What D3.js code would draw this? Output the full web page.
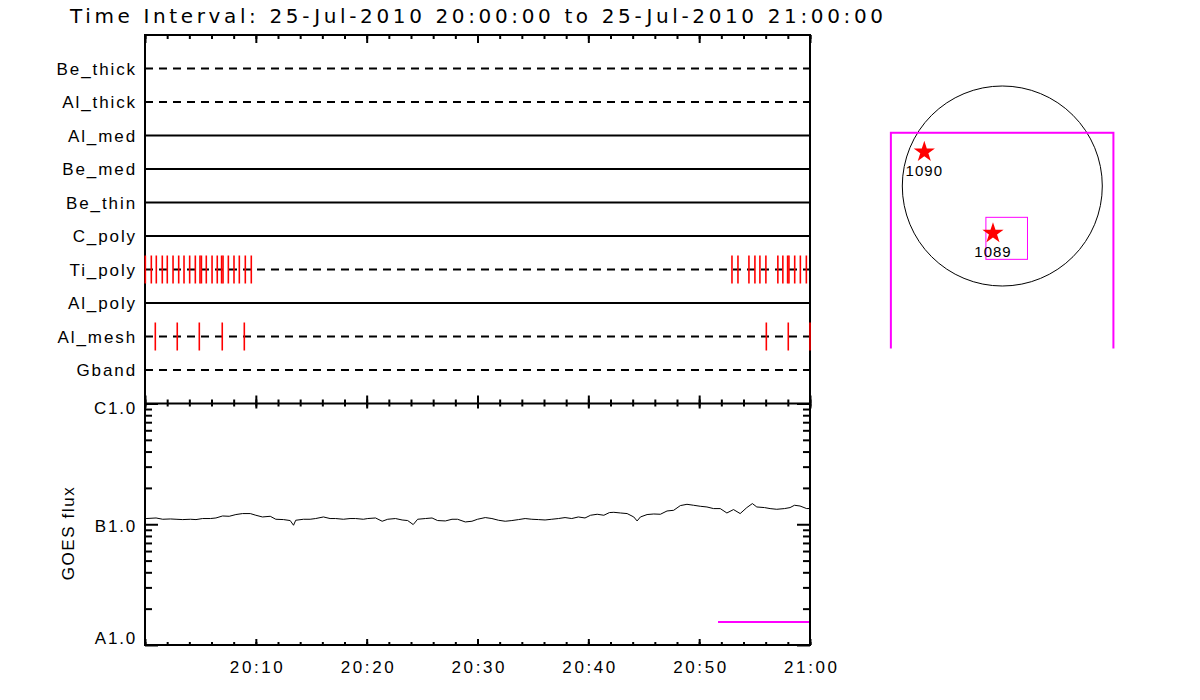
<!DOCTYPE html>
<html>
<head>
<meta charset="utf-8">
<script src="https://cdn.jsdelivr.net/npm/d3@7"></script>
<style>
  body { margin: 0; background: #fff; }
  text { font-family: "Liberation Sans", "DejaVu Sans", sans-serif; fill: #000; }
</style>
</head>
<body>
<svg id="chart"></svg>
<script>
// filter rows, top to bottom
const filters = ['Be_thick', 'Al_thick', 'Al_med', 'Be_med', 'Be_thin', 'C_poly', 'Ti_poly', 'Al_poly', 'Al_mesh', 'Gband'];
const dashedRows = ['Be_thick', 'Al_thick', 'Ti_poly', 'Al_mesh', 'Gband'];

// exposure marks, minutes after 20:00
const tiPolyTimes = [0.03, 0.57, 1.02, 1.56, 2.01, 2.53, 3.04, 3.52, 4.03, 4.54, 4.96, 5.09, 5.53, 6.05, 6.52, 6.91, 7.04, 7.52, 8.03, 8.51, 9.05, 9.59,
  52.96, 53.5, 54.49, 55.03, 55.48, 56.02, 57.1, 57.55, 57.98, 58.1, 58.62, 59.13, 59.67];
const alMeshTimes = [0.93, 2.91, 4.9, 6.97, 8.96, 56.06, 58.04, 60.0];

// GOES low channel, minutes after 20:00 and flux in units of 1e-7 W/m2
const goesMin = [0.1, 1.0, 1.6, 2.3, 2.8, 3.4, 4.1, 4.6, 5.2, 5.9, 6.4, 7.0, 7.6, 8.2, 8.8, 9.5, 10.0, 10.6, 11.3, 11.8,
  12.5, 13.1, 13.4, 13.6, 14.3, 14.9, 15.4, 16.1, 16.7, 17.2, 17.9, 18.5, 19.0, 19.7,
  20.1, 20.8, 21.4, 21.9, 22.6, 23.2, 23.7, 24.2, 24.6, 25.3, 25.9, 26.4, 27.1, 27.7, 28.2, 28.9, 29.5, 30.0,
  30.7, 31.3, 31.9, 32.5, 33.1, 33.7, 34.3, 34.9, 35.5, 36.1, 36.7, 37.3, 37.9, 38.5, 39.1, 39.7,
  40.2, 40.8, 41.4, 41.9, 42.3, 42.9, 43.5, 44.1, 44.4, 44.7, 45.3, 45.9, 46.5, 47.1, 47.7, 48.3, 48.9, 49.5,
  50.1, 50.7, 51.3, 51.9, 52.5, 53.1, 53.7, 54.3, 54.8, 55.2, 55.9, 56.4, 57.0, 57.7, 58.2, 58.6, 59.1, 59.7, 60.0];
const goesFlux = [1.115, 1.127, 1.10, 1.106, 1.10, 1.093, 1.10, 1.093, 1.115, 1.115, 1.127, 1.171, 1.164, 1.203, 1.226, 1.226, 1.187, 1.149, 1.164, 1.10,
  1.093, 1.073, 0.981, 1.079, 1.10, 1.10, 1.115, 1.149, 1.115, 1.115, 1.10, 1.115, 1.115, 1.10,
  1.115, 1.127, 1.059, 1.10, 1.115, 1.085, 1.073, 0.994, 1.10, 1.115, 1.127, 1.073, 1.065, 1.10, 1.10, 1.045, 1.059, 1.10,
  1.136, 1.115, 1.079, 1.059, 1.073, 1.093, 1.115, 1.10, 1.093, 1.085, 1.10, 1.115, 1.136, 1.115, 1.149, 1.127,
  1.187, 1.21, 1.187, 1.249, 1.256, 1.24, 1.226, 1.149, 1.065, 1.149, 1.203, 1.216, 1.21, 1.288, 1.305, 1.427, 1.463, 1.436,
  1.409, 1.39, 1.348, 1.348, 1.24, 1.323, 1.226, 1.374, 1.483, 1.39, 1.374, 1.348, 1.33, 1.348, 1.374, 1.436, 1.416, 1.348, 1.35];
const goesLabels = ['A1.0', 'B1.0', 'C1.0'];
const magentaMin = [51.7, 60.0];
const magentaFlux = 1.55e-8;

// solar map, arcsec
const sunRadius = 945;
const regionNames = ['1090', '1089'];
const regionX = [-737, -88];
const regionY = [321, -447];
const fovX = [-1053, 1050];
const fovY = [503, -2200];
const boxX = [-155, 238];
const boxY = [-296, -693];

const title = 'Time Interval: 25-Jul-2010 20:00:00 to 25-Jul-2010 21:00:00';

const width = 1200, height = 700;
const pLeft = 145, pRight = 810, pTop = 35, pMid = 403.5, pBottom = 645;

const svg = d3.select('#chart').attr('width', width).attr('height', height);

const t0 = new Date(Date.UTC(2010, 6, 25, 20, 0, 0));
const t1 = new Date(Date.UTC(2010, 6, 25, 21, 0, 0));
const tAt = (m) => new Date(t0.getTime() + m * 60000);

const x = d3.scaleUtc().domain([t0, t1]).range([pLeft, pRight]);
const yRow = d3.scalePoint().domain(filters).range([pTop, pMid]).padding(1);
const yFlux = d3.scaleLog().domain([1e-8, 1e-6]).range([pBottom, pMid]);

svg.append('text')
  .attr('x', 70).attr('y', 23)
  .attr('font-size', 20)
  .style('font-family', '"DejaVu Sans", sans-serif')
  .attr('textLength', 813).attr('lengthAdjust', 'spacing')
  .text(title);

// ---- filter panel ----
const filt = svg.append('g');

filt.selectAll('line.row')
  .data(filters)
  .enter()
    .append('line')
      .attr('class', 'row')
      .attr('x1', pLeft).attr('x2', pRight)
      .attr('y1', (d) => yRow(d)).attr('y2', (d) => yRow(d))
      .attr('stroke', '#000').attr('stroke-width', 2)
      .attr('stroke-dasharray', (d) => dashedRows.includes(d) ? '8,6' : null);

filt.selectAll('text.row')
  .data(filters)
  .enter()
    .append('text')
      .attr('x', 137)
      .attr('y', (d) => yRow(d))
      .attr('dy', '0.36em')
      .attr('text-anchor', 'end')
      .attr('font-size', 17)
      .attr('letter-spacing', 1.9)
      .text((d) => d);

const major = d3.utcMinute.every(10);
const minor = d3.utcMinute.every(2);

function styleAxis(g) {
  g.select('.domain').remove();
  g.selectAll('.tick line').attr('stroke', '#000').attr('stroke-width', 2);
}

svg.append('g')
  .attr('transform', `translate(0,${pTop})`)
  .call(d3.axisTop(x).ticks(minor).tickSize(-4).tickFormat(''))
  .call(styleAxis);
svg.append('g')
  .attr('transform', `translate(0,${pTop})`)
  .call(d3.axisTop(x).ticks(major).tickSize(-8).tickFormat(''))
  .call(styleAxis);
svg.append('g')
  .attr('transform', `translate(0,${pMid})`)
  .call(d3.axisBottom(x).ticks(minor).tickSize(-4).tickFormat(''))
  .call(styleAxis);
svg.append('g')
  .attr('transform', `translate(0,${pMid})`)
  .call(d3.axisBottom(x).ticks(major).tickSize(-8).tickFormat(''))
  .call(styleAxis);
svg.append('g')
  .attr('transform', `translate(0,${pMid})`)
  .call(d3.axisBottom(x).ticks(minor).tickSize(3).tickFormat(''))
  .call(styleAxis);
svg.append('g')
  .attr('transform', `translate(0,${pMid})`)
  .call(d3.axisBottom(x).ticks(major).tickSize(5).tickFormat(''))
  .call(styleAxis);

// ---- GOES panel ----
const goes = goesMin.map((m, i) => ({ t: tAt(m), f: goesFlux[i] * 1e-7 }));

svg.append('path')
  .datum(goes)
  .attr('fill', 'none')
  .attr('stroke', '#000')
  .attr('stroke-width', 1)
  .attr('d', d3.line().x((d) => x(d.t)).y((d) => yFlux(d.f)));

svg.append('line')
  .attr('x1', x(tAt(magentaMin[0]))).attr('x2', x(tAt(magentaMin[1])))
  .attr('y1', yFlux(magentaFlux)).attr('y2', yFlux(magentaFlux))
  .attr('stroke', '#ff00ff').attr('stroke-width', 2);

const decades = [1e-8, 1e-7, 1e-6];
const minors = [];
[1e-8, 1e-7].forEach((b) => { for (let k = 2; k <= 9; k++) minors.push(k * b); });

svg.append('g')
  .attr('transform', `translate(${pLeft},0)`)
  .call(d3.axisLeft(yFlux).tickValues(minors).tickSize(-7).tickFormat(''))
  .call(styleAxis);
const yAxisL = svg.append('g')
  .attr('transform', `translate(${pLeft},0)`)
  .call(d3.axisLeft(yFlux).tickValues(decades).tickSize(-13).tickPadding(8)
    .tickFormat((d, i) => goesLabels[i]))
  .call(styleAxis);
yAxisL.selectAll('.tick text')
  .attr('dy', (d, i) => [-0.1, 0.4, 0.6][i] + 'em')
  .attr('font-size', 17).attr('letter-spacing', 1.8);

svg.append('g')
  .attr('transform', `translate(${pRight},0)`)
  .call(d3.axisRight(yFlux).tickValues(minors).tickSize(-7).tickFormat(''))
  .call(styleAxis);
svg.append('g')
  .attr('transform', `translate(${pRight},0)`)
  .call(d3.axisRight(yFlux).tickValues(decades).tickSize(-13).tickFormat(''))
  .call(styleAxis);

svg.append('g')
  .attr('transform', `translate(0,${pBottom})`)
  .call(d3.axisBottom(x).ticks(minor).tickSize(-3).tickFormat(''))
  .call(styleAxis);
const xAxisB = svg.append('g')
  .attr('transform', `translate(0,${pBottom})`)
  .call(d3.axisBottom(x).ticks(major).tickSize(-6)
    .tickFormat((d) => d.getTime() === t0.getTime() ? '' : d3.utcFormat('%H:%M')(d)))
  .call(styleAxis);
xAxisB.selectAll('.tick text')
  .attr('y', 28).attr('dy', 0).attr('dx', 1.3)
  .attr('font-size', 17).attr('letter-spacing', 2.6);

svg.append('text')
  .attr('transform', `translate(74,533) rotate(-90)`)
  .attr('text-anchor', 'middle')
  .attr('font-size', 17)
  .attr('letter-spacing', 1.6)
  .text('GOES flux');

// frame lines
const frame = svg.append('g').attr('stroke', '#000').attr('stroke-width', 2);
frame.append('line').attr('x1', pLeft).attr('x2', pLeft).attr('y1', pTop).attr('y2', pBottom);
frame.append('line').attr('x1', pRight).attr('x2', pRight).attr('y1', pTop).attr('y2', pBottom);
frame.append('line').attr('x1', pLeft - 1).attr('x2', pRight + 1).attr('y1', pTop).attr('y2', pTop);
frame.append('line').attr('x1', pLeft - 1).attr('x2', pRight + 1).attr('y1', pMid).attr('y2', pMid);
frame.append('line').attr('x1', pLeft - 1).attr('x2', pRight + 1).attr('y1', pBottom).attr('y2', pBottom);

// exposure marks go over the frame
function exposureTicks(times, row) {
  svg.append('g').selectAll('line')
    .data(times)
    .enter()
      .append('line')
        .attr('x1', (d) => x(tAt(d))).attr('x2', (d) => x(tAt(d)))
        .attr('y1', yRow(row) - 14).attr('y2', yRow(row) + 14)
        .attr('stroke', '#ff0000').attr('stroke-width', 1.6);
}
exposureTicks(tiPolyTimes, 'Ti_poly');
exposureTicks(alMeshTimes, 'Al_mesh');

// ---- solar map ----
const pxPerArcsec = 100 / sunRadius;
const sx = d3.scaleLinear().domain([-1000, 1000]).range([1002.3 - 1000 * pxPerArcsec, 1002.3 + 1000 * pxPerArcsec]);
const sy = d3.scaleLinear().domain([-1000, 1000]).range([186 + 1000 * pxPerArcsec, 186 - 1000 * pxPerArcsec]);

svg.append('clipPath').attr('id', 'mapclip')
  .append('rect').attr('x', 850).attr('y', 50).attr('width', 300).attr('height', 298.5);

const map = svg.append('g').attr('clip-path', 'url(#mapclip)');

map.append('circle')
  .attr('cx', sx(0)).attr('cy', sy(0))
  .attr('r', sx(sunRadius) - sx(0))
  .attr('fill', 'none').attr('stroke', '#000').attr('stroke-width', 1);

map.append('rect')
  .attr('x', sx(fovX[0])).attr('y', sy(fovY[0]))
  .attr('width', sx(fovX[1]) - sx(fovX[0]))
  .attr('height', sy(fovY[1]) - sy(fovY[0]))
  .attr('fill', 'none').attr('stroke', '#ff00ff').attr('stroke-width', 2);

map.append('rect')
  .attr('x', sx(boxX[0])).attr('y', sy(boxY[0]))
  .attr('width', sx(boxX[1]) - sx(boxX[0]))
  .attr('height', sy(boxY[1]) - sy(boxY[0]))
  .attr('fill', 'none').attr('stroke', '#ff00ff').attr('stroke-width', 1);

const regions = regionNames.map((n, i) => ({ name: n, x: regionX[i], y: regionY[i] }));

map.selectAll('path.star')
  .data(regions)
  .enter()
    .append('path')
      .attr('class', 'star')
      .attr('transform', (d) => `translate(${sx(d.x)},${sy(d.y)})`)
      .attr('d', d3.symbol().type(d3.symbolStar).size(140))
      .attr('fill', '#ff0000');

map.selectAll('text.ar')
  .data(regions)
  .enter()
    .append('text')
      .attr('class', 'ar')
      .attr('x', (d) => sx(d.x))
      .attr('y', (d) => sy(d.y) + 24)
      .attr('text-anchor', 'middle')
      .attr('font-size', 15)
      .attr('letter-spacing', 1)
      .text((d) => d.name);
</script>
</body>
</html>
